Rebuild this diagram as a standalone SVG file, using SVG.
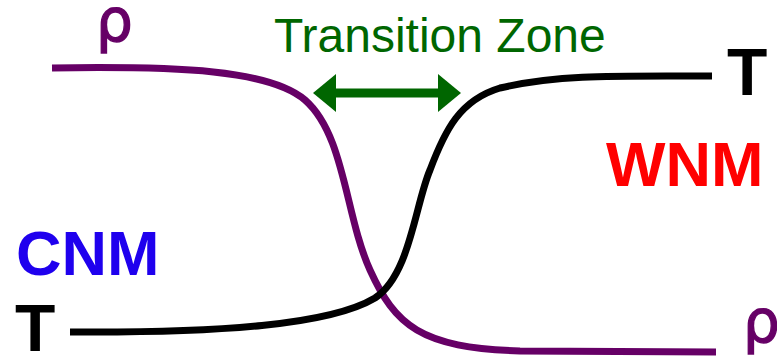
<svg xmlns="http://www.w3.org/2000/svg" width="777" height="361" viewBox="0 0 777 361">
  <style>
    .curve { fill: none; stroke-width: 7; stroke-linecap: butt; }
    .rho { stroke: #660066; }
    .temp { stroke: #000000; }
    .lbl { font-family: "Liberation Sans", Arial, sans-serif; }
    .big { font-weight: bold; font-size: 66px; }
    .sym { font-family: "DejaVu Sans", sans-serif; font-size: 58px; fill: #660066; stroke: #660066; stroke-width: 1.3; }
  </style>
  <defs>
    <marker id="head" viewBox="0 0 23 38" refX="1" refY="19" markerWidth="23" markerHeight="38" markerUnits="userSpaceOnUse" orient="auto-start-reverse">
      <path d="M0,0 L23,19 L0,38 Z" fill="#006600"/>
    </marker>
  </defs>
  <rect width="777" height="361" fill="#ffffff"/>

  <g id="connectors">
    <!-- density profile: high on the cold side, dropping across the zone -->
    <path id="rho-curve" class="curve rho" d="M52,68 C180,66 270,70 305,100 C345,135 345,215 370,270 C395,325 420,348 520,351 L716,352"/>
    <!-- temperature profile: low on the cold side, rising across the zone -->
    <path id="t-curve" class="curve temp" d="M70,332 C220,333 330,325 375,298 C410,275 415,205 430,170 C445,130 460,100 500,88 C560,74 620,76 712,76"/>
    <!-- width of the transition zone -->
    <line id="zone-arrow" x1="335" y1="93" x2="439" y2="93" stroke="#006600" stroke-width="9" marker-start="url(#head)" marker-end="url(#head)"/>
  </g>

  <g id="zone-label">
    <text class="lbl" x="274" y="52" font-size="48" fill="#006600">Transition Zone</text>
  </g>
  <g id="rho-high">
    <text class="sym" x="96" y="41">ρ</text>
  </g>
  <g id="rho-low">
    <text class="sym" x="743" y="342">ρ</text>
  </g>
  <g id="t-high">
    <text class="lbl big" x="727" y="95" fill="#000000">T</text>
  </g>
  <g id="t-low">
    <text class="lbl big" x="15" y="351" fill="#000000">T</text>
  </g>
  <g id="cnm">
    <text class="lbl" x="16" y="275" font-size="63" font-weight="bold" fill="#1f00ee">CNM</text>
  </g>
  <g id="wnm">
    <text class="lbl" x="606" y="186" font-size="63" font-weight="bold" fill="#ff0000">WNM</text>
  </g>
</svg>
